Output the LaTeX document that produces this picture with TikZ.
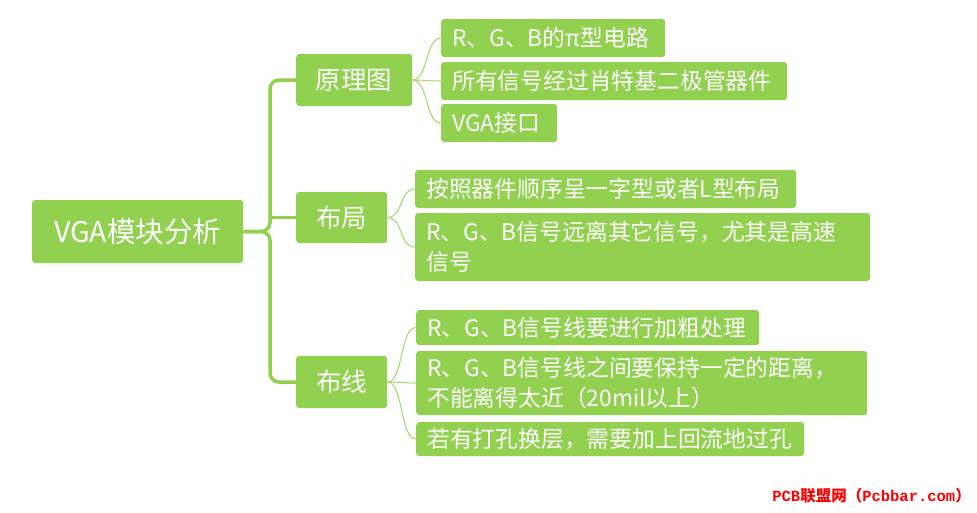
\documentclass[tikz,border=0pt]{standalone}
\usepackage{fontspec}
\setmainfont{Noto Sans CJK SC}
\newfontfamily\cjk{Noto Sans CJK SC}
\newfontfamily\wmmono{Liberation Mono}
\definecolor{vgreen}{HTML}{92D050}
\definecolor{lgreen}{HTML}{A6D66A}
\definecolor{wmred}{HTML}{FF0000}
\tikzset{
  box/.style={fill=vgreen, text=white, rounded corners=3pt, anchor=west, inner xsep=11pt, inner ysep=0pt, align=left},
  rootbox/.style={box, align=center, font=\fontsize{28.5}{32}\selectfont},
  midbox/.style={box, align=center, font=\fontsize{25.5}{30}\selectfont},
  leafbox/.style={box, font=\fontsize{22.8}{30}\selectfont},
  trunk/.style={draw=vgreen, line width=3.5pt},
  twig/.style={draw=lgreen, line width=1pt},
}
\begin{document}
\begin{tikzpicture}[x=1pt,y=-1pt]
\useasboundingbox (0,0) rectangle (977,512);
% root and mid nodes
\node[rootbox, minimum width=211pt, minimum height=63pt] (root) at (32,231.5) {VGA模块分析};
\node[midbox, minimum width=116pt, minimum height=52pt] (yl) at (296,80) {原理图};
\node[midbox, minimum width=91pt, minimum height=51pt] (bj) at (296,217.5) {布局};
\node[midbox, minimum width=91pt, minimum height=52pt] (bx) at (296,382) {布线};
% leaves
\node[leafbox, text width=202pt, minimum height=38pt] (l1) at (441,38) {R、G、B的π型电路};
\node[leafbox, text width=324pt, minimum height=38pt] (l2) at (441,81) {所有信号经过肖特基二极管器件};
\node[leafbox, text width=94pt, minimum height=38pt] (l3) at (441,123) {VGA接口};
\node[leafbox, text width=359pt, minimum height=38pt] (l4) at (415,189) {按照器件顺序呈一字型或者L型布局};
\node[leafbox, text width=433pt, minimum height=68pt] (l5) at (415,247) {R、G、B信号远离其它信号，尤其是高速\\信号};
\node[leafbox, text width=321pt, minimum height=35pt] (l6) at (416,327.5) {R、G、B信号线要进行加粗处理};
\node[leafbox, text width=429pt, minimum height=64pt] (l7) at (416,383) {R、G、B信号线之间要保持一定的距离，\\不能离得太近（20mil以上）};
\node[leafbox, text width=366pt, minimum height=34pt] (l8) at (416,439) {若有打孔换层，需要加上回流地过孔};
% trunk connectors
\coordinate (j) at (270,231.5);
\draw[trunk, rounded corners=9pt] (root.east) -- (j) -- (270,80) -- (yl.west);
\draw[trunk, rounded corners=9pt] (root.east) -- (j) -- (270,382) -- (bx.west);
\draw[trunk] (270,217.5) -- (bj.west);
% twigs
\foreach \p/\c in {yl/l1, yl/l2, yl/l3, bj/l4, bj/l5, bx/l6, bx/l7, bx/l8}{
  \draw[twig] (\p.east) .. controls +(16,0) and +(-16,0) .. (\c.west);
}
% watermark
\node[anchor=east, text=wmred, inner sep=0pt, font=\bfseries\fontsize{15.5}{18}\selectfont] (wm) at (971,496) {\wmmono PCB\cjk 联盟网（\wmmono Pcbbar.com\cjk ）};
\end{tikzpicture}
\end{document}
